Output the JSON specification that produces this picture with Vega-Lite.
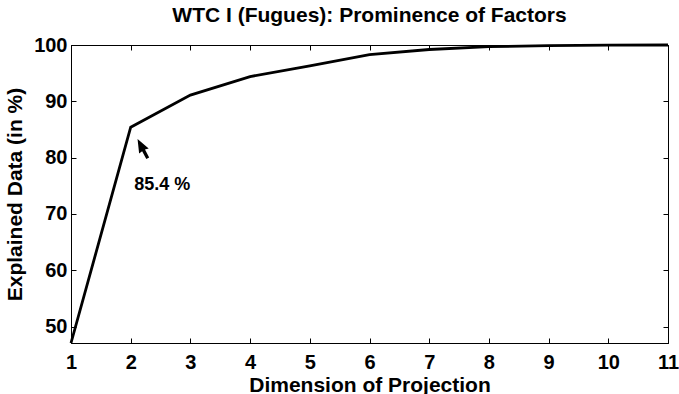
{
  "$schema": "https://vega.github.io/schema/vega-lite/v6.json",
  "width": 597,
  "height": 298,
  "autosize": {"type": "none"},
  "padding": {"left": 71, "top": 45, "right": 11, "bottom": 51},
  "background": "white",
  "config": {
    "font": "Liberation Sans",
    "view": {"stroke": "black", "strokeWidth": 1},
    "axis": {
      "domainColor": "black",
      "tickColor": "black",
      "labelColor": "black",
      "titleColor": "black",
      "labelFont": "Liberation Sans",
      "titleFont": "Liberation Sans",
      "labelFontWeight": "bold",
      "titleFontWeight": "bold",
      "labelFontSize": 20,
      "titleFontSize": 21,
      "grid": false,
      "tickSize": -5,
      "labelFlush": false,
      "labelOverlap": false
    }
  },
  "title": {
    "text": "WTC I (Fugues): Prominence of Factors",
    "font": "Liberation Sans",
    "fontSize": 21,
    "fontWeight": "bold",
    "color": "black",
    "anchor": "middle",
    "offset": 9
  },
  "datasets": {
    "curve": [
      {"dim": 1, "explained": 47.1},
      {"dim": 2, "explained": 85.4},
      {"dim": 3, "explained": 91.1},
      {"dim": 4, "explained": 94.4},
      {"dim": 5, "explained": 96.3},
      {"dim": 6, "explained": 98.3},
      {"dim": 7, "explained": 99.2},
      {"dim": 8, "explained": 99.7},
      {"dim": 9, "explained": 99.9},
      {"dim": 10, "explained": 99.97},
      {"dim": 11, "explained": 100}
    ],
    "arrow": [{"dim": 2.2, "explained": 81.6}],
    "note": [{"dim": 2.53, "explained": 75.1, "label": "85.4 %"}]
  },
  "layer": [
    {
      "data": {"name": "curve"},
      "mark": {"type": "line", "color": "black", "strokeWidth": 2.8},
      "encoding": {
        "x": {
          "field": "dim", "type": "quantitative",
          "scale": {"domain": [1, 11], "nice": false, "zero": false},
          "axis": {"orient": "bottom", "values": [1,2,3,4,5,6,7,8,9,10,11], "title": "Dimension of Projection", "labelPadding": 14, "titlePadding": 2}
        },
        "y": {
          "field": "explained", "type": "quantitative",
          "scale": {"domain": [47.1, 100], "nice": false, "zero": false},
          "axis": {"orient": "left", "values": [50,60,70,80,90,100], "title": "Explained Data (in %)", "labelPadding": 9, "titlePadding": 8}
        }
      }
    },
    {
      "data": {"name": "curve"},
      "mark": {"type": "line", "strokeOpacity": 0},
      "encoding": {
        "x": {
          "field": "dim", "type": "quantitative",
          "scale": {"domain": [1, 11], "nice": false, "zero": false},
          "axis": {"orient": "top", "values": [1,2,3,4,5,6,7,8,9,10,11], "labels": false, "title": null}
        },
        "y": {
          "field": "explained", "type": "quantitative",
          "scale": {"domain": [47.1, 100], "nice": false, "zero": false},
          "axis": {"orient": "right", "values": [50,60,70,80,90,100], "labels": false, "title": null}
        }
      }
    },
    {
      "data": {"name": "arrow"},
      "mark": {
        "type": "point",
        "shape": "M0,-1 L0.5,0.25 L0.15,0.18 L0.15,1 L-0.15,1 L-0.15,0.18 L-0.5,0.25 Z",
        "size": 470,
        "angle": -28,
        "filled": true,
        "color": "black",
        "opacity": 1
      },
      "encoding": {
        "x": {"field": "dim", "type": "quantitative", "axis": null},
        "y": {"field": "explained", "type": "quantitative", "axis": null}
      }
    },
    {
      "data": {"name": "note"},
      "mark": {"type": "text", "font": "Liberation Sans", "fontSize": 18, "fontWeight": "bold", "color": "black", "align": "center", "baseline": "middle"},
      "encoding": {
        "x": {"field": "dim", "type": "quantitative", "axis": null},
        "y": {"field": "explained", "type": "quantitative", "axis": null},
        "text": {"field": "label"}
      }
    }
  ],
  "resolve": {"axis": {"x": "independent", "y": "independent"}}
}
